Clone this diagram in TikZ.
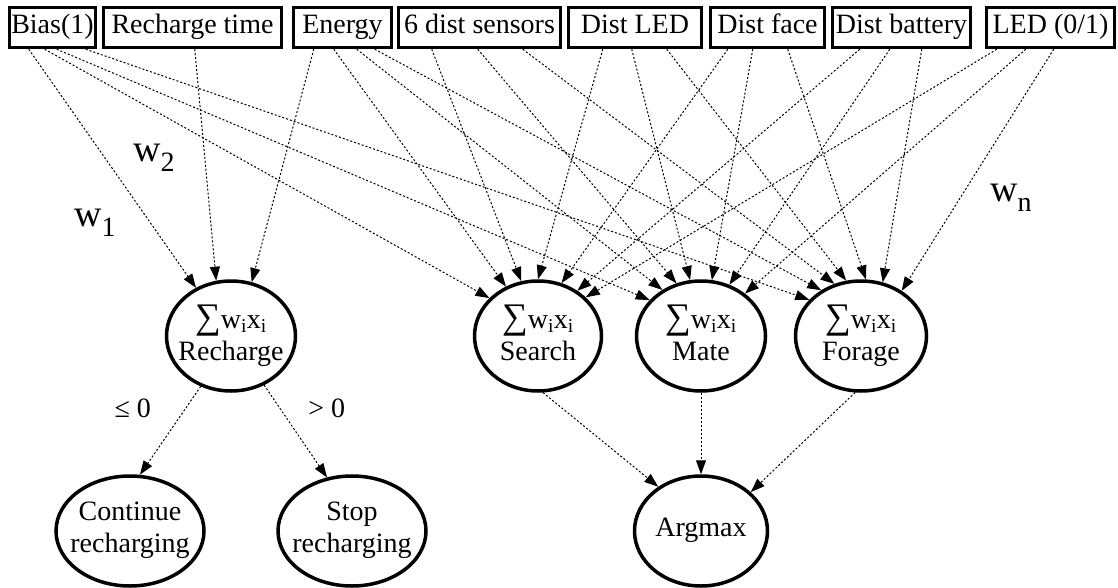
\documentclass[tikz,border=0pt]{standalone}
\usepackage{fontspec}
\setmainfont{Liberation Serif}
\usetikzlibrary{shapes.geometric,arrows.meta}
\newcommand{\drawinput}[1]{\node[input,minimum width=#1]}
\newcommand{\drawunit}[1]{\node[unit,minimum width=#1]}
\newcommand{\wsub}[1]{w\raisebox{-10pt}{\fontsize{28}{28}\selectfont #1}}
\newcommand{\wsum}{{\fontsize{36}{31}\selectfont ∑}w\textsubscript{i}x\textsubscript{i}}

\begin{document}
\begin{tikzpicture}[x=1pt,y=-1pt,
  every node/.style={font=\fontsize{28}{32}\selectfont, inner sep=0},
  input/.style={draw,rectangle,line width=3.5pt,minimum height=40pt,text height=19pt,text depth=6pt},
  unit/.style={draw,ellipse,line width=3.5pt,minimum height=110pt,inner xsep=-18pt,align=center,text depth=7pt},
  wire/.style={line width=1pt,dash pattern=on 2pt off 2pt,-{Triangle[length=14pt,width=10pt]}},
  weight/.style={font=\fontsize{38}{38}\selectfont}]
\useasboundingbox (0,0) rectangle (1118,588);
%inputs
\drawinput{86pt} (inBias) at (52.5,27.5) {Bias(1)};
\drawinput{178pt} (inRechargeTime) at (192.5,27.5) {Recharge time};
\drawinput{98pt} (inEnergy) at (342.5,27.5) {Energy};
\drawinput{162pt} (inDistSensors) at (479.5,27.5) {6 dist sensors};
\drawinput{133pt} (inDistLed) at (635,27.5) {Dist LED};
\drawinput{114pt} (inDistFace) at (767.5,27.5) {Dist face};
\drawinput{138pt} (inDistBattery) at (901.5,27.5) {Dist battery};
\drawinput{128pt} (inLed) at (1050.5,27.5) {LED (0/1)};

%weighted sums
\drawunit{129pt} (sumRecharge) at (231,336) {\wsum\\Recharge};
\drawunit{127pt} (sumSearch) at (538,336) {\wsum\\Search};
\drawunit{129pt} (sumMate) at (701,336) {\wsum\\Mate};
\drawunit{131pt} (sumForage) at (861,336) {\wsum\\Forage};

%outputs
\drawunit{148pt} (outContinue) at (130,531) {Continue\\recharging};
\drawunit{148pt} (outStop) at (352,531) {Stop\\recharging};
\drawunit{133pt} (argmax) at (701,531) {Argmax};

\node[weight] (wOne) at (95,223) {\wsub{1}};
\node[weight] (wTwo) at (154,158) {\wsub{2}};
\node[weight] (wN) at (1011,198) {\wsub{n}};

\draw[wire] ([xshift=21pt]inBias.south west) to (sumRecharge.126);
\draw[wire] ([xshift=93pt]inRechargeTime.south west) to (sumRecharge.105);
\draw[wire] ([xshift=22pt]inEnergy.south west) to (sumRecharge.69);

\draw[wire] ([xshift=37pt]inBias.south west) to (sumSearch.142);
\draw[wire] ([xshift=42pt]inEnergy.south west) to (sumSearch.123);
\draw[wire] ([xshift=35pt]inDistSensors.south west) to (sumSearch.107);
\draw[wire] ([xshift=36pt]inDistLed.south west) to (sumSearch.90);
\draw[wire] ([xshift=19pt]inDistFace.south west) to (sumSearch.66);
\draw[wire] ([xshift=29pt]inDistBattery.south west) to (sumSearch.49);
\draw[wire] ([xshift=12pt]inLed.south west) to (sumSearch.39);

\draw[wire] ([xshift=49pt]inBias.south west) to (sumMate.145);
\draw[wire] ([xshift=65pt]inEnergy.south west) to (sumMate.130);
\draw[wire] ([xshift=81pt]inDistSensors.south west) to (sumMate.115);
\draw[wire] ([xshift=65pt]inDistLed.south west) to (sumMate.101);
\draw[wire] ([xshift=44pt]inDistFace.south west) to (sumMate.79);
\draw[wire] ([xshift=59pt]inDistBattery.south west) to (sumMate.61);
\draw[wire] ([xshift=41pt]inLed.south west) to (sumMate.44);

\draw[wire] ([xshift=78pt]inBias.south west) to (sumForage.145);
\draw[wire] ([xshift=83pt]inEnergy.south west) to (sumForage.131);
\draw[wire] ([xshift=126pt]inDistSensors.south west) to (sumForage.117);
\draw[wire] ([xshift=100pt]inDistLed.south west) to (sumForage.105);
\draw[wire] ([xshift=79pt]inDistFace.south west) to (sumForage.85);
\draw[wire] ([xshift=91pt]inDistBattery.south west) to (sumForage.68);
\draw[wire] ([xshift=69pt]inLed.south west) to (sumForage.48);

%decisions
\draw[wire] (sumRecharge.239) to node[pos=0.25, left=34pt] {≤ 0} (outContinue.80);
\draw[wire] (sumRecharge.-56) to node[pos=0.25, right=28pt] {> 0} (outStop.115);
\draw[wire] (sumSearch.-85) to (argmax.134);
\draw[wire] (sumMate.-90) to (argmax.90);
\draw[wire] (sumForage.-96) to (argmax.38);

\end{tikzpicture}
\end{document}
